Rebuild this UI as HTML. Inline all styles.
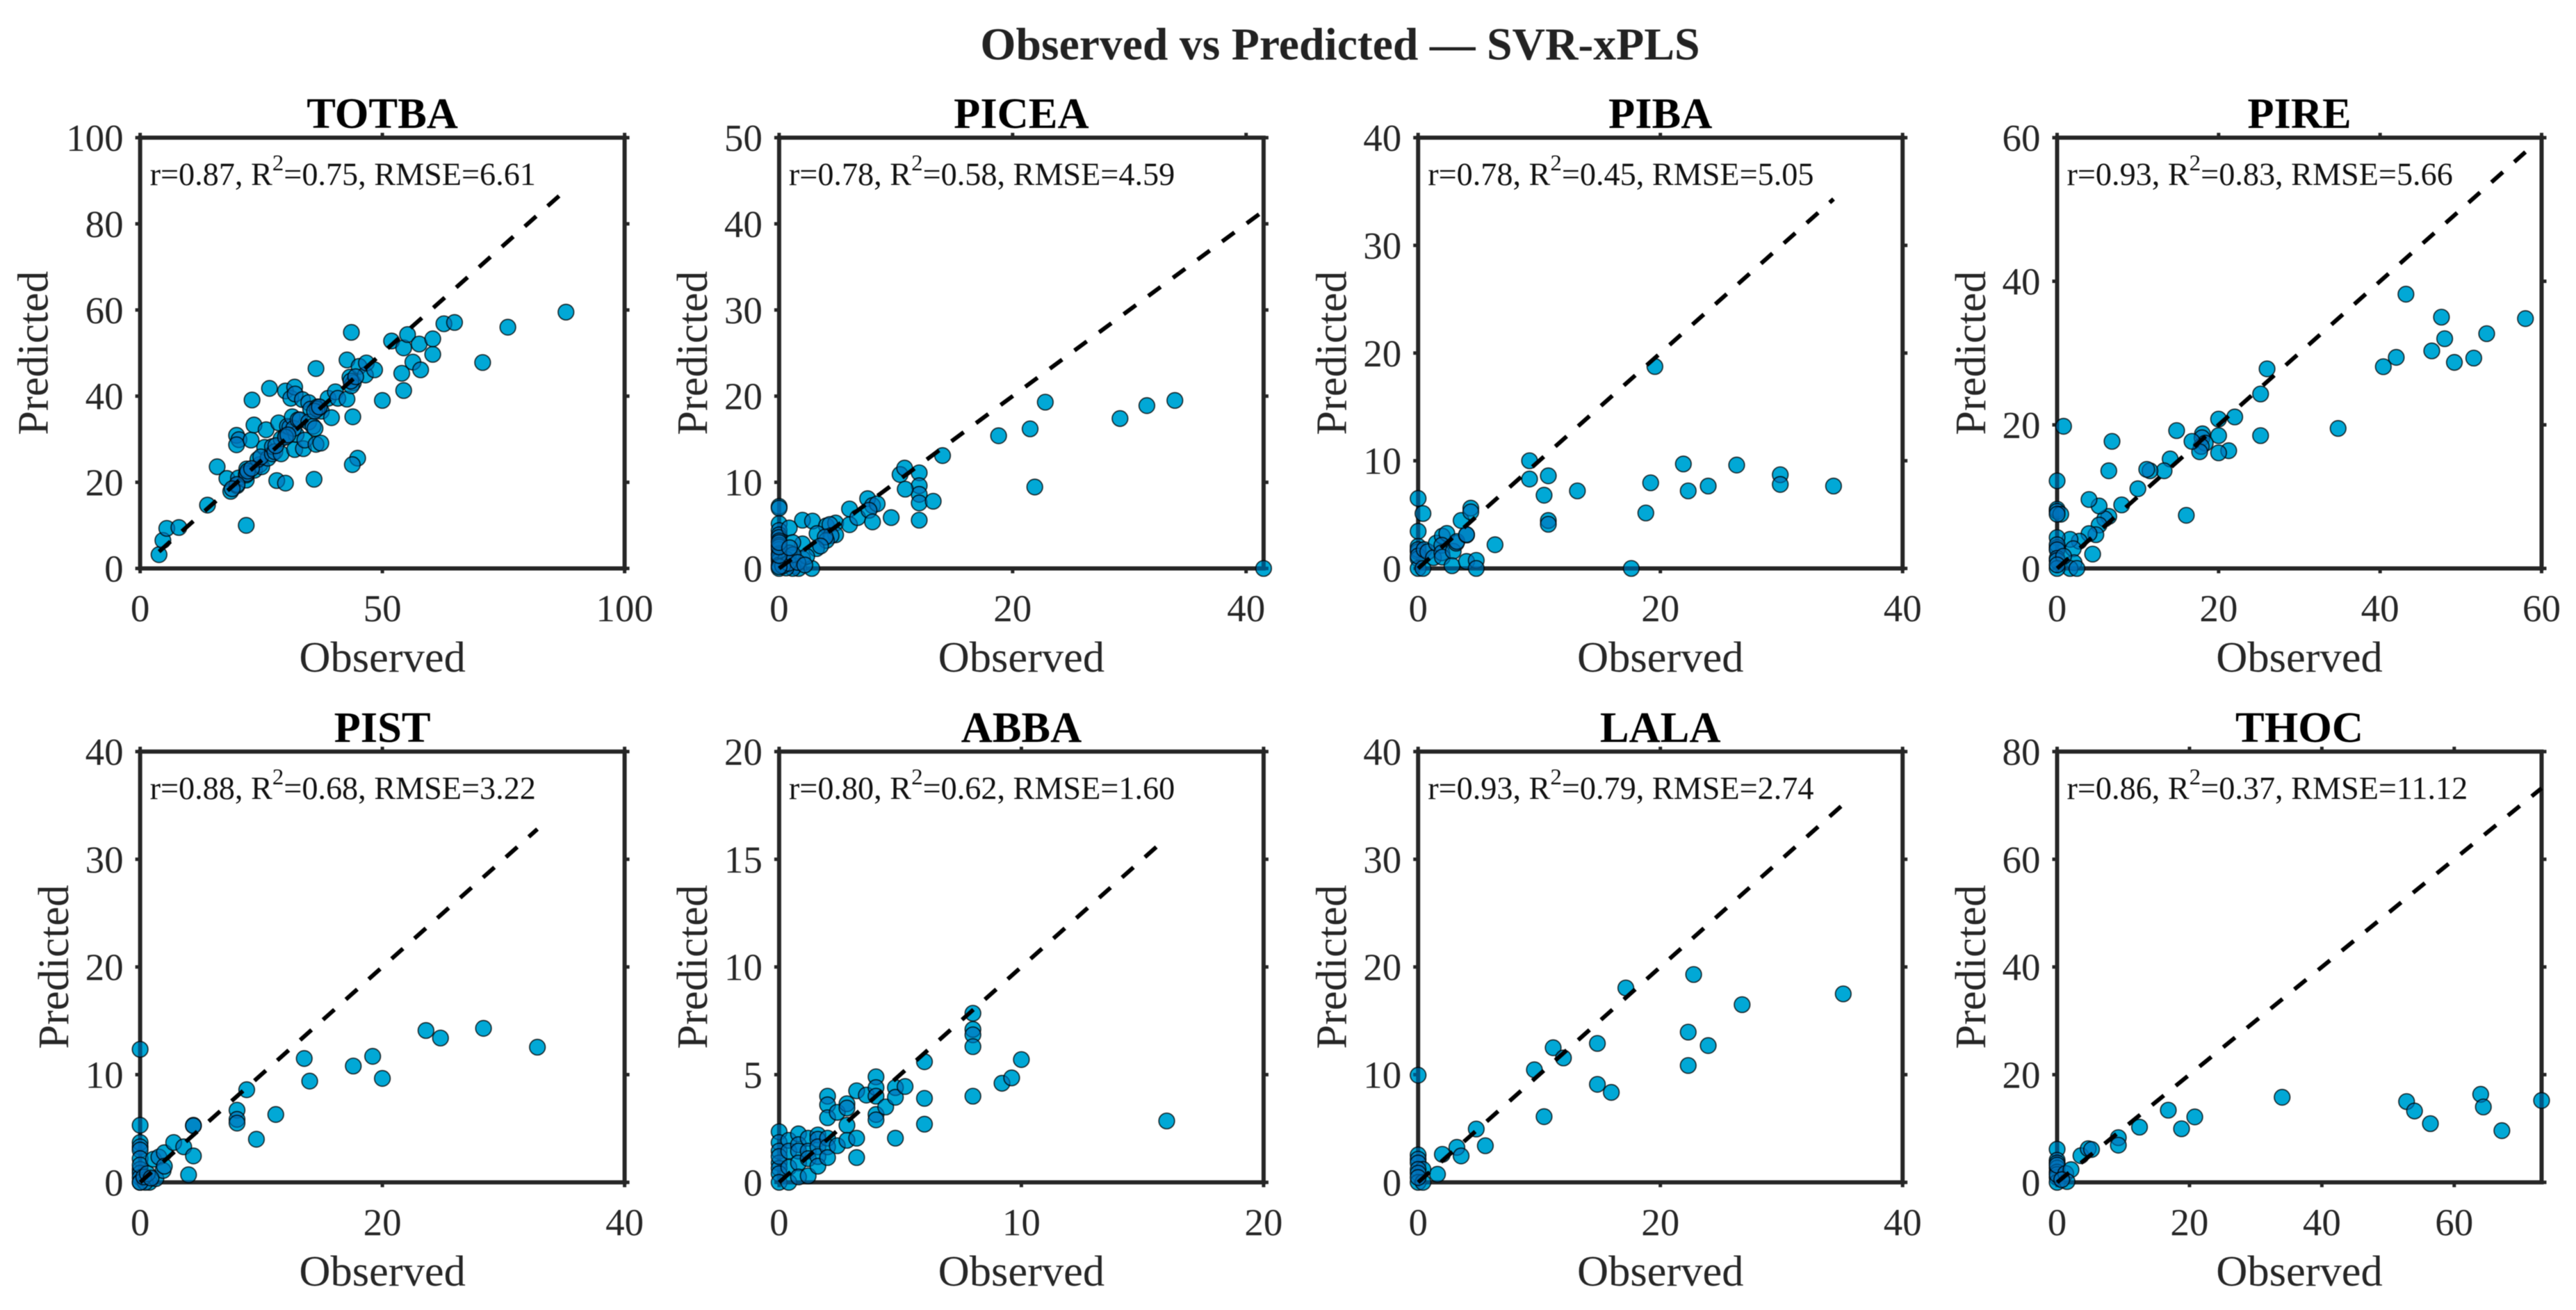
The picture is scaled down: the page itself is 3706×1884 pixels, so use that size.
<!DOCTYPE html>
<html lang="en">
<head>
<meta charset="utf-8">
<title>Observed vs Predicted — SVR-xPLS</title>
<style>
html,body{margin:0;padding:0;background:#fff;}
svg{display:block;font-family:"Liberation Serif","Times New Roman",serif;}
</style>
</head>
<body>
<svg id="figure" xmlns="http://www.w3.org/2000/svg" width="3706" height="1884" viewBox="0 0 3706 1884">
  <defs>
    <filter id="ink" filterUnits="userSpaceOnUse" x="0" y="0" width="3706" height="1884" color-interpolation-filters="sRGB">
      <feColorMatrix type="matrix" values="2.35 -1.35 0 0 0  0 1 0 0 0  0 0 1 0 0  0 0 0 1 0"/>
      <feGaussianBlur stdDeviation="0.6"/>
    </filter>
  </defs>
  <g id="root" filter="url(#ink)">
    <rect x="0" y="0" width="3706" height="1884" fill="#fff"/>
    <text x="1928" y="85.5" text-anchor="middle" font-size="65.7" font-weight="bold" fill="#222">Observed vs Predicted — SVR-xPLS</text>
  </g>
</svg>
<script>
const speciesNames = ['TOTBA','PICEA','PIBA','PIRE','PIST','ABBA','LALA','THOC'];
const rValues = ['0.87','0.78','0.78','0.93','0.88','0.80','0.93','0.86'];
const r2Values = ['0.75','0.58','0.45','0.83','0.68','0.62','0.79','0.37'];
const rmseValues = ['6.61','4.59','5.05','5.66','3.22','1.60','2.74','11.12'];

const xLimits = [100,41.5,40,60,40,20,40,73.2];
const yLimits = [100,50,40,60,40,20,40,80];
const xTickValues = [[0,50,100],[0,20,40],[0,20,40],[0,20,40,60],[0,20,40],[0,10,20],[0,20,40],[0,20,40,60]];
const yTickValues = [[0,20,40,60,80,100],[0,10,20,30,40,50],[0,10,20,30,40],[0,20,40,60],[0,10,20,30,40],[0,5,10,15,20],[0,10,20,30,40],[0,20,40,60,80]];
const lineStarts = [3.9,0,0,0,0,0,0,0];
const lineEnds = [87.9,41.5,34.3,58,32.8,16,35.1,73.2];

const totbaObserved = [3.9,4.7,5.5,8,13.9,15.9,17.9,18.7,19.9,20.4,19.9,20,20.3,21.9,21.9,21.9,22,22.9,23.1,23.5,23.6,24.7,25.1,24.3,26,25.7,26.4,24.9,26.7,27.3,27.3,27.8,28.6,28.2,29.1,30,30,29.1,30.1,30.4,30.9,31.1,31.9,32,31.4,31.9,32.2,31.7,32.6,33,33.7,34,33.5,34.8,35.2,34.8,35.7,36.1,36.3,35.9,36.3,37.3,36.8,36.6,37.4,38.8,39.5,40.3,40.8,42.7,42.7,43.6,43.3,44,43.6,43.9,44.9,43.8,45.2,46.5,46.7,48.4,50,51.9,54,54.4,54.4,55.2,56.3,57.6,57.9,60.4,60.4,62.7,64.9,70.7,75.9,87.9,22,22.2,28,30,36.5,36,43.5,20,19,23,30.5,37,44.5];
const totbaPredicted = [3.2,6.5,9.3,9.5,14.7,23.6,20.9,17.9,30.9,29.9,28.7,19.2,21,10,20.5,21.7,23.1,29.8,39.1,33.3,22.8,24.1,23.6,25.3,32.2,28.1,25.6,25.9,41.8,26.6,28.3,27.1,33.8,20.4,26.6,19.8,41.2,30.1,30.9,33,32.8,39.5,42.1,40.5,35.2,27.6,31.1,32.5,34.5,34.5,27.8,29.8,39.2,38.5,37,34,33,32.5,46.4,20.7,28.8,29.1,37.2,37.5,36.5,39.5,35,41,39.5,39.3,48.4,54.8,44.4,43.1,42.4,35.2,25.6,24.1,46.9,44.9,47.7,46.1,39,52.8,45.3,41.3,51.2,54.3,47.9,52.1,46.1,49.7,53.3,56.8,57.1,47.8,56,59.5,22,22.6,28.5,30.5,37,36.5,43.5,19.5,18.5,23.2,31,37.5,44.5];

const piceaObserved = [0,0,0,0,0,0,0,0,0,0,0,0,0,0,2,2.86,0.87,4.05,4.84,4.35,3.25,6.03,6.03,6.73,7.58,8,8.4,7.7,8,9.6,10.36,10.75,12,12,12,12,12,10.8,13.2,14,4.84,4.45,4.05,3.95,3.2,3.55,2,2,1.17,0.87,0.58,1.27,1.67,1.17,2.8,2.36,0.6,18.8,21.5,22.8,21.9,29.2,31.5,33.9,41.5,0.3,0.8,1.2,1.6,2.2,0,0,0,0,0.9];
const piceaPredicted = [7.2,7,5.2,4.4,3.9,3.6,3.2,2.7,2.2,1.7,1.2,0.9,0.4,0,5.6,5.5,4.7,4.95,5.27,5.1,4.05,6.9,5.08,5.9,8.1,7.3,7.5,6.75,5.4,5.9,10.9,11.65,11.1,9.6,8.6,7.6,5.6,9.2,7.8,13.1,3.9,3.8,3.25,3.65,2.3,2.6,2.85,1.15,3,1.8,1.1,0.3,0,0,0,1.4,0.05,15.4,16.2,19.3,9.45,17.4,18.9,19.5,0,0.3,0.6,1.6,0.7,0.4,0.2,1.5,2.5,3,2.4];

const pibaObserved = [0,0.4,0,0,0,0,0,0,0,0.4,0.5,0.8,1.27,1.5,2,2.37,1.96,1.96,2,2.9,3.15,3.2,2.8,4,4,3.55,4,4.8,4.8,4.35,4.35,6.35,9.2,9.2,10.4,10.75,10.75,10.75,13.15,17.6,18.8,19.2,19.55,21.9,22.3,23.95,26.3,29.9,29.9,34.3];
const pibaPredicted = [6.5,5.1,3.45,2.05,1.55,1.75,0.9,0,1.15,0,1.75,1.55,1,2.35,3,3.25,2.15,1.45,1.05,1.6,2.35,2.5,0.25,3.1,3.15,4.45,0.65,0.75,0,5.6,5.25,2.2,10,8.3,6.8,8.6,4.45,4.1,7.2,0,5.15,7.95,18.75,9.7,7.2,7.65,9.6,8.7,7.8,7.65];

const pireObserved = [58,53.2,51.6,49.2,48,47.6,46.4,43.2,42,40.4,34.8,26,25.2,25.2,22,21.25,20,20,20,18,17.95,18.35,17.85,17.65,16.7,16,14.8,14,13.25,11.5,11.1,10,8,6.8,6.4,6.4,5.9,5.2,5.2,4.8,3.95,3.95,4.4,2.75,1.6,2,2.1,1.6,2.45,0.8,0,0,0,0.45,0,0,0,0,0,0,0,0.8,0,0];
const pirePredicted = [34.8,32.7,29.3,28.7,32,35,30.3,38.2,29.4,28.1,19.5,27.8,24.3,18.5,21.1,16.4,20.8,18.5,16.1,18.75,18.2,17.45,17,16.25,17.7,7.4,19.2,15.25,13.6,13.6,13.8,11.1,8.85,17.7,13.6,7.25,6.9,8.7,6.05,4.7,9.6,4.85,2,3.8,4.05,2.75,0.8,0,0,19.8,12.2,8.25,7.95,7.55,7.55,4.3,2.9,3.3,2.6,1.4,1.1,1.7,0,0.5];

const pistObserved = [0,0,0,0,0,0,0,0,0,0,0,0.77,0.42,1.3,1.1,1.55,2,1.9,2,2.77,3.6,4.4,4,4.4,4.4,8,8,8,8.8,9.6,11.2,13.55,14,17.6,19.2,20,23.6,24.8,28.35,32.8,0,0.3,0.6,0.9];
const pistPredicted = [12.35,5.3,3.7,3.3,3,2.2,1.2,0.85,0.45,0,1.6,0,0,0.35,2.15,2.35,2.75,1.1,1.5,3.7,3.3,2.45,0.7,5.3,5.25,6.7,5.85,5.5,8.6,4,6.3,11.5,9.4,10.8,11.7,9.65,14.1,13.4,14.3,12.55,0,0.5,0.8,0.4];

const abbaObserved = [0,0,0,0,0,0,0,0,0.4,0.4,0.4,0.4,0.8,0.8,0.8,0.8,0.8,1.2,1.2,1.2,1.2,1.6,1.6,1.6,1.6,1.6,2,2,2,2,2,2,2.4,2.4,2.8,2.8,2.8,2.8,3.2,3.2,3.2,3.6,4,4,4,4,4,4.4,4.8,4.8,4.8,5.2,6,6,6,8,8,8,8,8,9.2,9.6,10,16];
const abbaPredicted = [2.35,1.85,1.45,0.9,0.65,0.4,0,1.2,1.95,1.45,0.7,0,2.25,1.75,1.45,0.9,0.25,2.05,1.45,1.1,0.3,2.2,2,1.65,1.2,0.75,2.05,1.65,1.15,4,3.6,3,3.25,1.7,3.65,3.45,2.65,1.95,4.25,2.05,1.15,4.05,4.9,4.4,4,3.15,2.9,3.5,4.4,3.95,2.05,4.45,5.6,3.9,2.7,7.85,7.1,6.85,6.3,4,4.6,4.85,5.7,2.85];

const lalaObserved = [0,0,0,0,0.4,0,0,0,0.4,0,1.6,2,3.2,3.55,4.8,5.55,9.6,10.4,11.15,12,14.8,14.8,15.95,17.15,22.3,22.3,22.75,23.95,26.75,35.1];
const lalaPredicted = [9.95,2.55,2.15,1.8,1.2,1.2,0.85,0,0,0.45,0.75,2.6,3.25,2.45,4.95,3.4,10.45,6.1,12.5,11.55,12.9,9.1,8.35,18.05,13.95,10.85,19.3,12.7,16.5,17.5];

const thocObserved = [0,0,0,0,0,0,0,0,0,1.3,2.1,1.5,0.7,3.6,4.7,5.2,9.25,9.25,12.45,16.8,18.8,20.8,34,52.8,54,56.4,64,64.4,67.2,73.2];
const thocPredicted = [6.15,4.1,3.6,2.65,1.9,0.9,0,1.45,3.2,1.65,2.35,0.15,0.5,4.95,6.25,6.1,8.3,6.9,10.25,13.4,9.95,12.15,15.8,15,13.25,10.9,16.35,14,9.6,15.2];

const observedSeries = [totbaObserved,piceaObserved,pibaObserved,pireObserved,pistObserved,abbaObserved,lalaObserved,thocObserved];
const predictedSeries = [totbaPredicted,piceaPredicted,pibaPredicted,pirePredicted,pistPredicted,abbaPredicted,lalaPredicted,thocPredicted];

const SVG_NS = 'http://www.w3.org/2000/svg';
const root = document.getElementById('root');
const PLOT_W = 697;
const PLOT_H = 619.5;

function plotLeft(i){ return 201.6 + (i % 4) * 919.3; }
function plotTop(i){ return 198 + Math.floor(i / 4) * 882.9; }
function xScale(i, v){ return plotLeft(i) + (v / xLimits[i]) * PLOT_W; }
function yScale(i, v){ return plotTop(i) + PLOT_H - (v / yLimits[i]) * PLOT_H; }

function make(tag, attrs, parent){
  const el = document.createElementNS(SVG_NS, tag);
  for (const k in attrs) el.setAttribute(k, attrs[k]);
  parent.appendChild(el);
  return el;
}

speciesNames.forEach(function(name, i){
  const key = name.toLowerCase();
  const left = plotLeft(i), top = plotTop(i);
  const right = left + PLOT_W, bottom = top + PLOT_H;

  const panel = make('g', {}, root);
  
  

  const title = make('text', {x: left + PLOT_W / 2, y: top - 14, 'text-anchor': 'middle', 'font-size': 62.5, 'font-weight': 'bold', fill: '#000'}, panel);
  title.textContent = name;
  
  

  const ticks = make('g', {stroke: '#262626', 'stroke-width': 5}, panel);
  
  

  xTickValues[i].forEach(function(v){
    const x = xScale(i, v);
    const tickBottom = make('line', {x1: x, x2: x, y1: bottom, y2: bottom + 7}, ticks);
    
    
    const tickTop = make('line', {x1: x, x2: x, y1: top, y2: top - 7}, ticks);
    
    
    const label = make('text', {x: x, y: bottom + 76, 'text-anchor': 'middle', 'font-size': 55, fill: '#262626'}, panel);
    label.textContent = String(v);
    
    
  });

  yTickValues[i].forEach(function(v){
    const y = yScale(i, v);
    const tickLeft = make('line', {x1: left, x2: left - 7, y1: y, y2: y}, ticks);
    
    
    const tickRight = make('line', {x1: right, x2: right + 7, y1: y, y2: y}, ticks);
    
    
    const label = make('text', {x: left - 24, y: y + 19, 'text-anchor': 'end', 'font-size': 55, fill: '#262626'}, panel);
    label.textContent = String(v);
    
    
  });

  const box = make('rect', {x: left, y: top, width: PLOT_W, height: PLOT_H, fill: 'none', stroke: '#262626', 'stroke-width': 6}, panel);
  
  

  const xTitle = make('text', {x: left + PLOT_W / 2, y: bottom + 148.5, 'text-anchor': 'middle', 'font-size': 62.5, fill: '#262626'}, panel);
  xTitle.textContent = 'Observed';
  
  

  const yTitleX = left - (i === 0 ? 133 : 103.7);
  const yTitleY = top + PLOT_H / 2;
  const yTitle = make('text', {x: yTitleX, y: yTitleY, 'text-anchor': 'middle', 'font-size': 62.5, fill: '#262626', transform: 'rotate(-90 ' + yTitleX + ' ' + yTitleY + ')'}, panel);
  yTitle.textContent = 'Predicted';
  
  

  const points = make('g', {}, panel);
  
  
  observedSeries[i].forEach(function(obs, j){
    const dot = make('circle', {cx: xScale(i, obs), cy: yScale(i, predictedSeries[i][j]), r: 11.3, fill: 'rgb(0,114,189)', 'fill-opacity': 0.62, stroke: '#000', 'stroke-opacity': 0.78, 'stroke-width': 1.7}, points);
    
    
  });

  const line = make('line', {x1: xScale(i, lineStarts[i]), y1: yScale(i, lineStarts[i]), x2: xScale(i, lineEnds[i]), y2: yScale(i, lineEnds[i]), stroke: '#000', 'stroke-width': 6, 'stroke-dasharray': '22 22'}, panel);
  
  

  const stats = make('text', {x: left + 14, y: top + 68, 'font-size': 46.2, fill: '#111'}, panel);
  
  
  const t1 = make('tspan', {}, stats);
  t1.textContent = 'r=' + rValues[i] + ', R';
  const sup = make('tspan', {dy: -21, 'font-size': 33}, stats);
  sup.textContent = '2';
  const t2 = make('tspan', {dy: 21}, stats);
  t2.textContent = '=' + r2Values[i] + ', RMSE=' + rmseValues[i];
});
</script>
</body>
</html>
